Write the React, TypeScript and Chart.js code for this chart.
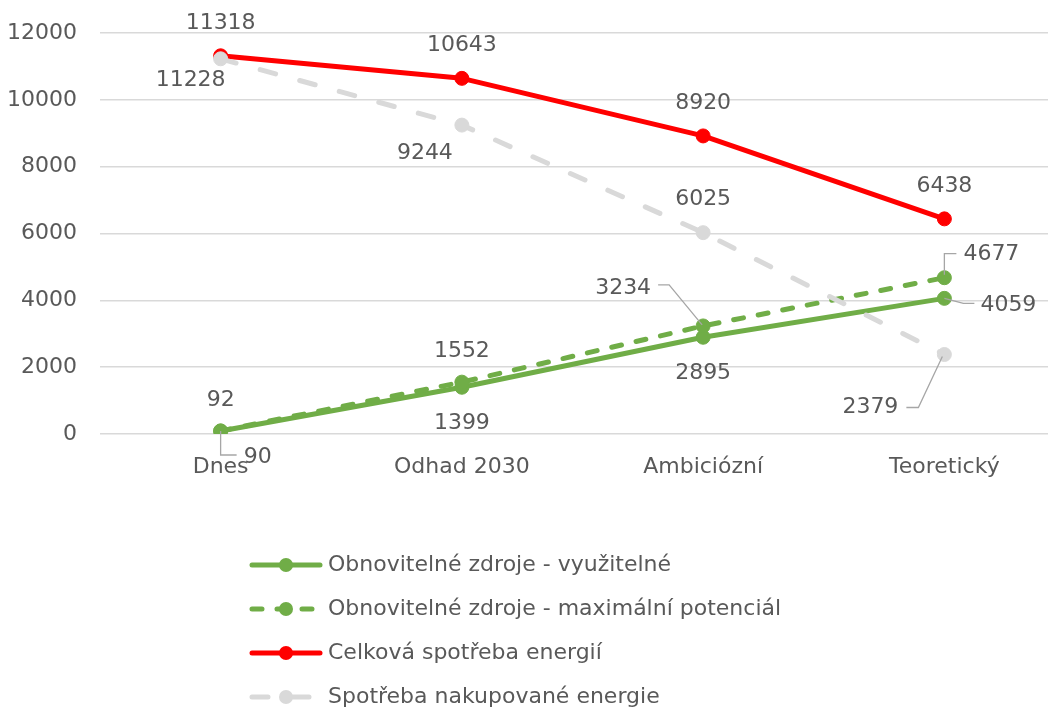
import React, { useEffect, useRef } from 'react';
import { Chart, registerables } from 'chart.js';

Chart.register(...registerables);

const categories = ['Dnes', 'Odhad 2030', 'Ambiciózní', 'Teoretický'];
const renewableUsable = [90, 1399, 2895, 4059];
const renewableMax = [92, 1552, 3234, 4677];
const totalConsumption = [11318, 10643, 8920, 6438];
const purchasedEnergy = [11228, 9244, 6025, 2379];
const seriesNames = [
  'Obnovitelné zdroje - využitelné',
  'Obnovitelné zdroje - maximální potenciál',
  'Celková spotřeba energií',
  'Spotřeba nakupované energie',
];
const yTickValues = [0, 2000, 4000, 6000, 8000, 10000, 12000];

const FONT = '"DejaVu Sans", sans-serif';
const FONT_SIZE = 22;
const TEXT = '#595959';
const GREEN = '#70ad47';
const RED = '#ff0000';
const GRAY = '#d9d9d9';

type Place = { dx: number; dy: number; leader?: [number, number][] };
const labelPlacement: Place[][] = [
  [
    { dx: 37, dy: 26, leader: [[0, 0], [0, 24], [16, 24]] },
    { dx: 0, dy: 36 },
    { dx: 0, dy: 36 },
    { dx: 64, dy: 7, leader: [[0, 0], [19, 5], [30, 5]] },
  ],
  [
    { dx: 0, dy: -31 },
    { dx: 0, dy: -31 },
    { dx: -80, dy: -38, leader: [[-1, -1], [-34, -41], [-45, -41]] },
    { dx: 47, dy: -23, leader: [[0, -3], [0, -24], [12, -24]] },
  ],
  [
    { dx: 0, dy: -33 },
    { dx: 0, dy: -33 },
    { dx: 0, dy: -33 },
    { dx: 0, dy: -33 },
  ],
  [
    { dx: -30, dy: 21 },
    { dx: -37, dy: 28 },
    { dx: 0, dy: -33 },
    { dx: -74, dy: 53, leader: [[-2, 2], [-26, 53], [-38, 53]] },
  ],
];

const styles = [
  { color: GREEN, dash: [] as number[], cap: 'round' as CanvasLineCap },
  { color: GREEN, dash: [10, 15], cap: 'round' as CanvasLineCap },
  { color: RED, dash: [] as number[], cap: 'round' as CanvasLineCap },
  { color: GRAY, dash: [16, 25], cap: 'round' as CanvasLineCap },
];

const dataLabelPlugin = {
  id: 'dataLabels',
  afterDatasetsDraw(chart: any) {
    const ctx: CanvasRenderingContext2D = chart.ctx;
    ctx.save();
    chart.data.datasets.forEach((ds: any, i: number) => {
      const meta = chart.getDatasetMeta(i);
      meta.data.forEach((pt: any, j: number) => {
        const p = labelPlacement[i][j];
        if (p.leader) {
          ctx.beginPath();
          ctx.setLineDash([]);
          ctx.strokeStyle = '#a6a6a6';
          ctx.lineWidth = 1.3;
          p.leader.forEach(([lx, ly], k) => {
            if (k === 0) ctx.moveTo(pt.x + lx, pt.y + ly);
            else ctx.lineTo(pt.x + lx, pt.y + ly);
          });
          ctx.stroke();
        }
        ctx.fillStyle = TEXT;
        ctx.font = `${FONT_SIZE}px ${FONT}`;
        ctx.textAlign = 'center';
        ctx.textBaseline = 'middle';
        ctx.fillText(String(ds.data[j]), pt.x + p.dx, pt.y + p.dy);
      });
    });
    ctx.restore();
  },
};

const legendPlugin = {
  id: 'customLegend',
  afterDraw(chart: any) {
    const ctx: CanvasRenderingContext2D = chart.ctx;
    ctx.save();
    seriesNames.forEach((name, i) => {
      const y = 565 + i * 44;
      const s = styles[i];
      ctx.beginPath();
      ctx.setLineDash(s.dash);
      ctx.lineCap = s.cap;
      ctx.strokeStyle = s.color;
      ctx.lineWidth = 5;
      ctx.moveTo(252, y);
      ctx.lineTo(320, y);
      ctx.stroke();
      ctx.setLineDash([]);
      ctx.beginPath();
      ctx.fillStyle = s.color;
      ctx.arc(286, y, 7, 0, Math.PI * 2);
      ctx.fill();
      ctx.fillStyle = TEXT;
      ctx.font = `${FONT_SIZE}px ${FONT}`;
      ctx.textAlign = 'left';
      ctx.textBaseline = 'middle';
      ctx.fillText(name, 328, y);
    });
    ctx.restore();
  },
};

export default function App() {
  const ref = useRef<HTMLCanvasElement>(null);

  useEffect(() => {
    if (!ref.current) return;
    const values = [renewableUsable, renewableMax, totalConsumption, purchasedEnergy];
    const orders = [3, 2, 1, 0];
    const chart = new Chart(ref.current, {
      type: 'line',
      data: {
        labels: categories,
        datasets: values.map((v, i) => ({
          label: seriesNames[i],
          data: v,
          borderColor: styles[i].color,
          backgroundColor: styles[i].color,
          borderWidth: 5,
          borderDash: styles[i].dash,
          borderCapStyle: styles[i].cap,
          borderJoinStyle: 'round',
          pointRadius: 7,
          pointBorderWidth: 1,
          pointBackgroundColor: styles[i].color,
          pointBorderColor: styles[i].color,
          tension: 0,
          fill: false,
          order: orders[i],
        })),
      },
      options: {
        responsive: false,
        animation: false,
        layout: { padding: { top: 33, left: 0, right: 0, bottom: 227 } },
        plugins: {
          legend: { display: false },
          tooltip: { enabled: false },
        },
        scales: {
          x: {
            offset: true,
            grid: { display: false, offset: true },
            border: { display: false },
            ticks: {
              font: { family: FONT, size: FONT_SIZE },
              color: TEXT,
              padding: 12,
              maxRotation: 0,
            },
            afterFit: (s: any) => {
              s.height = 50;
              s.paddingLeft = 0;
              s.paddingRight = 0;
            },
          },
          y: {
            min: 0,
            max: 12000,
            afterBuildTicks: (s: any) => {
              s.ticks = yTickValues.map((v) => ({ value: v }));
            },
            grid: { color: GRAY, lineWidth: 1.5, drawTicks: false },
            border: { display: false },
            ticks: {
              font: { family: FONT, size: FONT_SIZE },
              color: TEXT,
              padding: 23,
              callback: (v: any) => String(v),
            },
            afterFit: (s: any) => {
              s.width = 100;
              s.paddingTop = 0;
              s.paddingBottom = 0;
            },
          },
        },
      },
      plugins: [dataLabelPlugin, legendPlugin],
    } as any);
    return () => chart.destroy();
  }, []);

  return (
    <div
      style={{
        position: 'absolute',
        left: 0,
        top: 0,
        width: 1048,
        height: 711,
        overflow: 'hidden',
        background: '#fff',
      }}
    >
      <canvas ref={ref} width={1073} height={711} style={{ display: 'block' }} />
    </div>
  );
}
